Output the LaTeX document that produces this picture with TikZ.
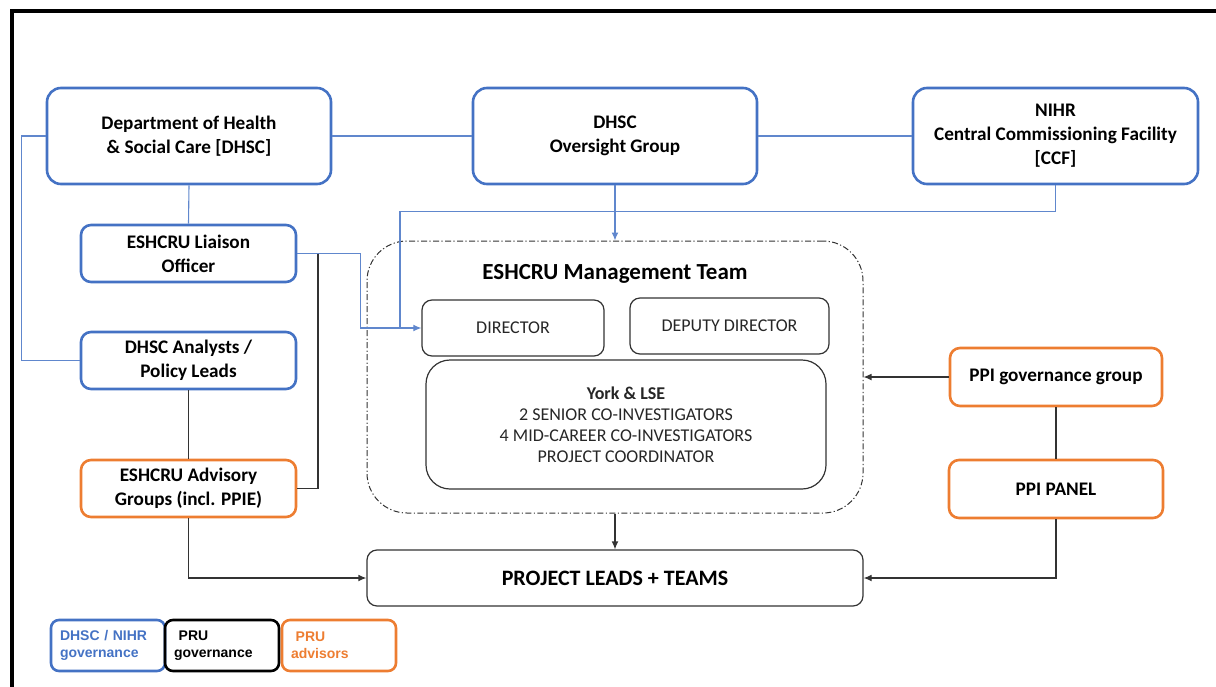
\documentclass[tikz,border=0pt]{standalone}
\usepackage{fontspec}
\setmainfont{Carlito}
\newfontfamily\legendfont{Liberation Sans}
\usetikzlibrary{arrows.meta}
\definecolor{govblue}{HTML}{4472C4}
\definecolor{advorange}{HTML}{ED7D31}
\definecolor{textgray}{HTML}{262626}
\definecolor{linegray}{HTML}{333333}

\begin{document}
\begin{tikzpicture}[x=0.5pt,y=-0.5pt]
  \tikzstyle{bnode} = [draw=govblue, line width=1.3pt, rounded corners=7pt, align=center, font=\bfseries\fontsize{9.6}{12}\selectfont]
  \tikzstyle{onode} = [bnode, draw=advorange]
  \tikzstyle{gnode} = [draw=linegray, line width=0.6pt, rounded corners=5pt, align=center, text=textgray, font=\fontsize{9}{10.5}\selectfont]
  \tikzstyle{legbox} = [line width=1.3pt, rounded corners=4pt, align=left, text width=48pt, inner xsep=4.5pt, minimum height=25.5pt, font=\legendfont\bfseries\fontsize{7}{8.5}\selectfont]
  \tikzstyle{bline} = [draw=govblue!85, line width=0.55pt]
  \tikzstyle{barrow} = [bline, -{Latex[length=4pt,width=3.4pt]}]
  \tikzstyle{kline} = [draw=linegray, line width=0.6pt]
  \tikzstyle{karrow} = [kline, -{Latex[length=4pt,width=3.4pt]}]
  \useasboundingbox (0,0) rectangle (1216,686);
  \draw[line width=2pt] (12,720) -- (12,11) -- (1240,11);

  \node[bnode, minimum width=142pt, minimum height=48pt] (dhsc) at (189,136) {Department of Health\\\& Social Care [DHSC]};
  \node[bnode, minimum width=142pt, minimum height=48pt] (oversight) at (615,136) {DHSC\\Oversight Group};
  \node[bnode, minimum width=142.5pt, minimum height=48pt] (nihr) at (1055.5,136) {NIHR\\Central Commissioning Facility\\{}[CCF]};
  \node[bnode, rounded corners=5pt, minimum width=107.5pt, minimum height=28.5pt] (liaison) at (188.5,253.5) {ESHCRU Liaison\\Officer};
  \node[bnode, rounded corners=5pt, minimum width=107.5pt, minimum height=28.5pt] (analysts) at (188.5,360.5) {DHSC Analysts /\\Policy Leads};
  \node[onode, rounded corners=5pt, minimum width=107.5pt, minimum height=28.5pt] (advisory) at (188.5,488.5) {ESHCRU Advisory\\Groups (incl. PPIE)};

  \node[draw=linegray, line width=0.5pt, dash pattern=on 3pt off 1.2pt on 0.6pt off 1.2pt, rounded corners=20pt, minimum width=248pt, minimum height=136pt] (mgmt) at (615,377) {};
  \node[font=\bfseries\fontsize{11.5}{13}\selectfont] (mgmttitle) at (615,274) {ESHCRU Management Team};
  \node[gnode, minimum width=91pt, minimum height=28pt] (director) at (513,328) {DIRECTOR};
  \node[gnode, minimum width=99.5pt, minimum height=28pt] (deputy) at (729.5,326) {DEPUTY DIRECTOR};
  \node[gnode, rounded corners=12pt, minimum width=200pt, minimum height=64.5pt] (york) at (626,424.5) {\textbf{York \& LSE}\\2 SENIOR CO-INVESTIGATORS\\4 MID-CAREER CO-INVESTIGATORS\\PROJECT COORDINATOR};
  \node[gnode, text=black, minimum width=248pt, minimum height=28pt, font=\bfseries\fontsize{11}{13}\selectfont] (project) at (615,578) {PROJECT LEADS + TEAMS};

  \node[onode, rounded corners=5pt, minimum width=106pt, minimum height=29pt] (ppigov) at (1056,377) {PPI governance group};
  \node[onode, rounded corners=5pt, minimum width=107pt, minimum height=29pt] (ppipanel) at (1056,489) {PPI PANEL};

  \node[legbox, draw=govblue, text=govblue] (legnihr) at (108,645.5) {DHSC / NIHR\\governance};
  \node[legbox, draw=black, text=black] (legpru) at (222,645.5) {~PRU\\governance};
  \node[legbox, draw=advorange, text=advorange] (legadv) at (339,645.5) {~PRU\\advisors};

  \coordinate (ccfjoin) at (400,328);
  \coordinate (liaisonjoin) at (318,253.5);

  \draw[bline] (dhsc.east) -- (oversight.west);
  \draw[bline] (oversight.east) -- (nihr.west);
  \draw[bline] (dhsc.west) -- ++(-24,0) |- (analysts.west);
  \draw[bline] (dhsc.south) -- (liaison.north);
  \draw[bline] (nihr.south) -- ++(0,26) -| (ccfjoin);
  \draw[barrow] (liaison.east) -- ++(63,0) |- (director.west);
  \draw[barrow] (oversight.south) -- (mgmt.north);

  \draw[kline] (liaisonjoin) |- (advisory.east);
  \draw[kline] (analysts.south) -- (advisory.north);
  \draw[karrow] (advisory.south) |- (project.west);
  \draw[karrow] (mgmt.south) -- (project.north);
  \draw[karrow] (ppigov.west) -- (mgmt.east);
  \draw[kline] (ppigov.south) -- (ppipanel.north);
  \draw[karrow] (ppipanel.south) |- (project.east);
\end{tikzpicture}
\end{document}
